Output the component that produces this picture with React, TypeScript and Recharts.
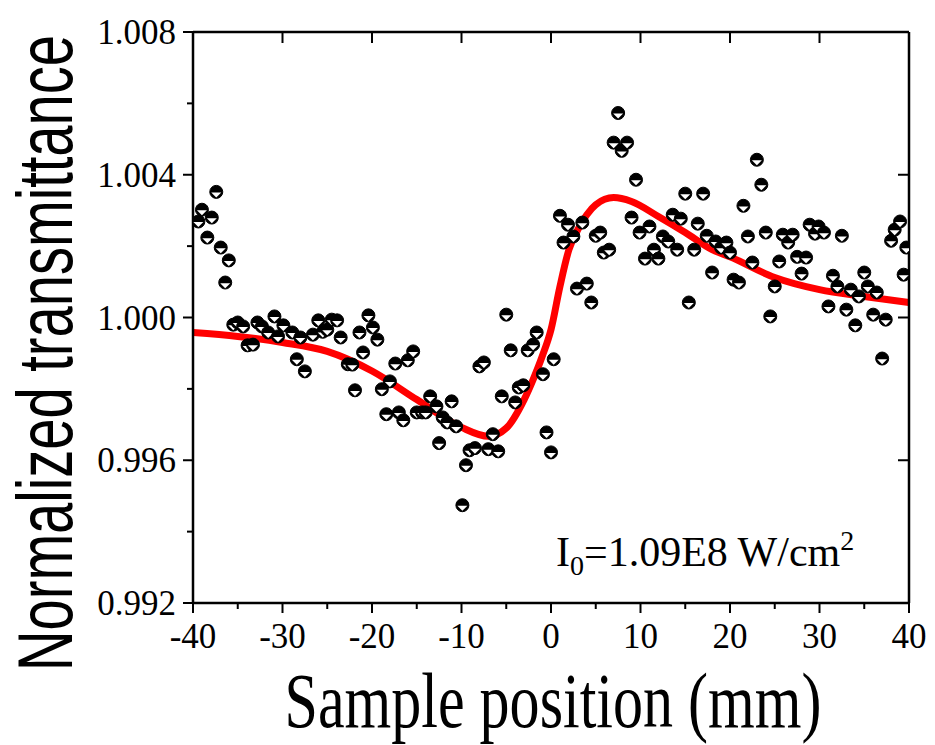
import React from 'react';
import { ComposedChart, Line, Scatter, XAxis, YAxis } from 'recharts';

// measured z-scan points (mm, normalized T)
const positions = [
  -39.4, -39.0, -38.4, -37.9, -37.4, -36.9, -36.4, -36.0, -35.5, -35.0,
  -34.4, -33.9, -33.3, -32.8, -32.3, -31.6, -30.9, -30.5, -29.9, -28.9,
  -28.4, -28.0, -27.5, -26.6, -26.0, -25.5, -25.0, -24.5, -23.9, -23.5,
  -22.7, -22.2, -21.9, -21.4, -21.0, -20.4, -19.9, -19.4, -18.9, -18.4,
  -18.0, -17.4, -17.0, -16.5, -16.0, -15.4, -15.0, -14.4, -14.0, -13.5,
  -12.8, -12.5, -12.1, -11.6, -11.1, -10.6, -9.9, -9.5, -9.1, -8.5,
  -8.0, -7.5, -7.0, -6.5, -5.9, -5.5, -5.0, -4.5, -4.0, -3.6,
  -3.1, -2.6, -2.0, -1.6, -0.9, -0.5, 0.0, 0.3, 1.0, 1.4,
  1.9, 2.5, 2.9, 3.5, 4.0, 4.5, 5.0, 5.5, 5.9, 6.5,
  7.0, 7.5, 7.9, 8.5, 9.0, 9.5, 9.9, 10.5, 11.0, 11.5,
  12.0, 12.5, 13.1, 13.6, 14.1, 14.5, 15.0, 15.4, 16.0, 16.4,
  17.0, 17.4, 18.0, 18.4, 19.0, 19.6, 20.0, 20.4, 21.0, 21.5,
  22.0, 22.5, 23.0, 23.5, 24.0, 24.5, 25.0, 25.5, 25.9, 26.5,
  27.0, 27.5, 28.0, 28.5, 28.9, 29.5, 29.9, 30.5, 31.0, 31.5,
  32.0, 32.5, 33.0, 33.5, 34.0, 34.4, 35.0, 35.4, 36.0, 36.4,
  37.0, 37.4, 38.0, 38.4, 39.0, 39.4, 39.7,
];

const transmittance = [
  1.00269, 1.00302, 1.00224, 1.0028, 1.00352, 1.00196, 1.00098, 1.0016, 0.9998, 0.99986,
  0.99975, 0.99922, 0.99924, 0.99986, 0.99975, 0.99958, 1.00003, 0.99947, 0.99978, 0.99958,
  0.99883, 0.99944, 0.99849, 0.99952, 0.99992, 0.9996, 0.99966, 0.99994, 0.99992, 0.99944,
  0.99869, 0.99868, 0.99796, 0.99958, 0.99902, 1.00006, 0.99972, 0.99938, 0.99799, 0.99729,
  0.99821, 0.99871, 0.99734, 0.99712, 0.9988, 0.99905, 0.99734, 0.99734, 0.99734, 0.99779,
  0.99751, 0.99648, 0.9972, 0.99706, 0.99765, 0.99695, 0.99474, 0.99586, 0.99628, 0.99634,
  0.99863, 0.99874, 0.99631, 0.99673, 0.99625, 0.99779, 1.00008, 0.99908, 0.99762, 0.99804,
  0.9981, 0.99908, 0.99924, 0.99958, 0.99841, 0.99678, 0.99622, 0.99883, 1.00285, 1.0021,
  1.0026, 1.00227, 1.00081, 1.00266, 1.00095, 1.00042, 1.00229, 1.00238, 1.00182, 1.0019,
  1.0049, 1.00573, 1.00467, 1.0049, 1.0028, 1.00386, 1.00238, 1.00165, 1.00255, 1.0019,
  1.00165, 1.00227, 1.00213, 1.00288, 1.0019, 1.00277, 1.00347, 1.00042, 1.0019, 1.00263,
  1.00347, 1.00229, 1.00126, 1.00213, 1.00196, 1.0021, 1.00182, 1.00106, 1.00098, 1.00313,
  1.00227, 1.00154, 1.00442, 1.00372, 1.00238, 1.00003, 1.00087, 1.00157, 1.00232, 1.0021,
  1.00232, 1.0017, 1.00123, 1.00168, 1.0026, 1.00235, 1.00255, 1.00238, 1.00031, 1.00117,
  1.00087, 1.00229, 1.00022, 1.00078, 0.99978, 1.00059, 1.00126, 1.00087, 1.00008, 1.0007,
  0.99885, 0.99994, 1.00215, 1.00246, 1.00269, 1.0012, 1.00196,
];

// fitted curve
const fitPosition = [-40, -35, -30, -25, -20, -15, -10, -7, -5, -3, -2, -1, 0, 1, 2, 3, 4, 5, 7, 9, 12, 15, 18, 20, 25, 30, 35, 40];
const fitTransmittance = [
  0.99958, 0.99947, 0.9993, 0.99905, 0.9985, 0.9977, 0.99692, 0.99667, 0.9969, 0.9977,
  0.99826, 0.9989, 0.99966, 1.00087, 1.0019, 1.00246, 1.00288, 1.00316, 1.00336, 1.00325,
  1.00283, 1.00238, 1.0019, 1.0017, 1.00112, 1.00078, 1.00059, 1.00042,
];

const xTicks = [-40, -35, -30, -25, -20, -15, -10, -5, 0, 5, 10, 15, 20, 25, 30, 35, 40];
const yTicks = [0.992, 0.994, 0.996, 0.998, 1.0, 1.002, 1.004, 1.006, 1.008];

const points = positions.map((x, i) => ({ x, y: transmittance[i] }));
const fit = fitPosition.map((x, i) => ({ x, y: fitTransmittance[i] }));

const serif = '"Liberation Serif", "Times New Roman", serif';

const isMajorY = (v: number) => Math.round(v * 1000) % 4 === 0;

const LeftTick = (props: any) => {
  const { x, y, payload } = props;
  const major = isMajorY(payload.value);
  return (
    <g>
      <line x1={x} x2={x - (major ? 10 : 6)} y1={y} y2={y} stroke="#000" strokeWidth={2} />
      {major && (
        <text x={x - 17} y={y + 12} textAnchor="end" fontFamily={serif} fontSize={35} fill="#000">
          {payload.value.toFixed(3)}
        </text>
      )}
    </g>
  );
};

const RightTick = (props: any) => {
  const { x, y, payload } = props;
  if (!isMajorY(payload.value)) return <g />;
  return <line x1={x} x2={x - 11} y1={y} y2={y} stroke="#000" strokeWidth={2} />;
};

const BottomTick = (props: any) => {
  const { x, y, payload } = props;
  const major = payload.value % 10 === 0;
  return (
    <g>
      <line x1={x} x2={x} y1={y} y2={y + (major ? 10 : 6)} stroke="#000" strokeWidth={2} />
      {major && (
        <text x={x} y={y + 45} textAnchor="middle" fontFamily={serif} fontSize={35} fill="#000">
          {payload.value}
        </text>
      )}
    </g>
  );
};

const TopTick = (props: any) => {
  const { x, y, payload } = props;
  if (payload.value % 10 !== 0) return <g />;
  return <line x1={x} x2={x} y1={y} y2={y + 11} stroke="#000" strokeWidth={2} />;
};

// Origin style half filled circle
const HalfCircle = (props: any) => {
  const { cx, cy } = props;
  return (
    <g>
      <circle cx={cx} cy={cy} r={6.5} fill="#000" stroke="#000" strokeWidth={1} />
      <polygon points={`${cx - 5},${cy + 0.6} ${cx + 5},${cy + 0.6} ${cx},${cy + 5.6}`} fill="#fff" />
    </g>
  );
};

export default function App() {
  return (
    <div style={{ position: 'relative', width: 935, height: 745, background: '#fff' }}>
      <style>{`body{margin:0}`}</style>
      <ComposedChart width={935} height={745} margin={{ top: 22, right: 16, bottom: 82, left: 93 }}>
        <XAxis
          xAxisId="b"
          dataKey="x"
          type="number"
          domain={[-40, 40]}
          ticks={xTicks}
          allowDataOverflow
          height={60}
          tickSize={0}
          tickMargin={0}
          tickLine={false}
          tick={<BottomTick />}
          axisLine={{ stroke: '#000', strokeWidth: 2.5 }}
          interval={0}
        />
        <XAxis
          xAxisId="t"
          orientation="top"
          dataKey="x"
          type="number"
          domain={[-40, 40]}
          ticks={xTicks}
          allowDataOverflow
          height={10}
          tickSize={0}
          tickMargin={0}
          tickLine={false}
          tick={<TopTick />}
          axisLine={{ stroke: '#000', strokeWidth: 2.5 }}
          interval={0}
        />
        <YAxis
          yAxisId="l"
          type="number"
          domain={[0.992, 1.008]}
          ticks={yTicks}
          allowDataOverflow
          width={100}
          tickSize={0}
          tickMargin={0}
          tickLine={false}
          tick={<LeftTick />}
          axisLine={{ stroke: '#000', strokeWidth: 2.5 }}
          interval={0}
        />
        <YAxis
          yAxisId="r"
          orientation="right"
          type="number"
          domain={[0.992, 1.008]}
          ticks={yTicks}
          allowDataOverflow
          width={10}
          tickSize={0}
          tickMargin={0}
          tickLine={false}
          tick={<RightTick />}
          axisLine={{ stroke: '#000', strokeWidth: 2.5 }}
          interval={0}
        />
        <Line
          xAxisId="b"
          yAxisId="l"
          data={fit}
          dataKey="y"
          type="monotone"
          stroke="#ff0000"
          strokeWidth={7}
          dot={false}
          isAnimationActive={false}
        />
        <Scatter
          xAxisId="b"
          yAxisId="l"
          data={points}
          dataKey="y"
          shape={<HalfCircle />}
          isAnimationActive={false}
        />
      </ComposedChart>
      <svg
        width={935}
        height={745}
        style={{ position: 'absolute', left: 0, top: 0, pointerEvents: 'none' }}
      >
        <text
          transform="translate(72,353) rotate(-90)"
          textAnchor="middle"
          fontFamily='"Liberation Sans", Arial, sans-serif'
          fontSize={78}
          textLength={636}
          lengthAdjust="spacingAndGlyphs"
          fill="#000"
        >
          Normalized transmittance
        </text>
        <text
          x={553}
          y={727}
          textAnchor="middle"
          fontFamily={serif}
          fontSize={78}
          textLength={537}
          lengthAdjust="spacingAndGlyphs"
          fill="#000"
        >
          Sample position (mm)
        </text>
        <text x={556} y={566} fontFamily={serif} fontSize={42} fill="#000">
          I<tspan fontSize={28} dy={9}>0</tspan>
          <tspan dy={-9}>=1.09E8 W/cm</tspan>
          <tspan fontSize={28} dy={-16}>2</tspan>
        </text>
      </svg>
    </div>
  );
}
